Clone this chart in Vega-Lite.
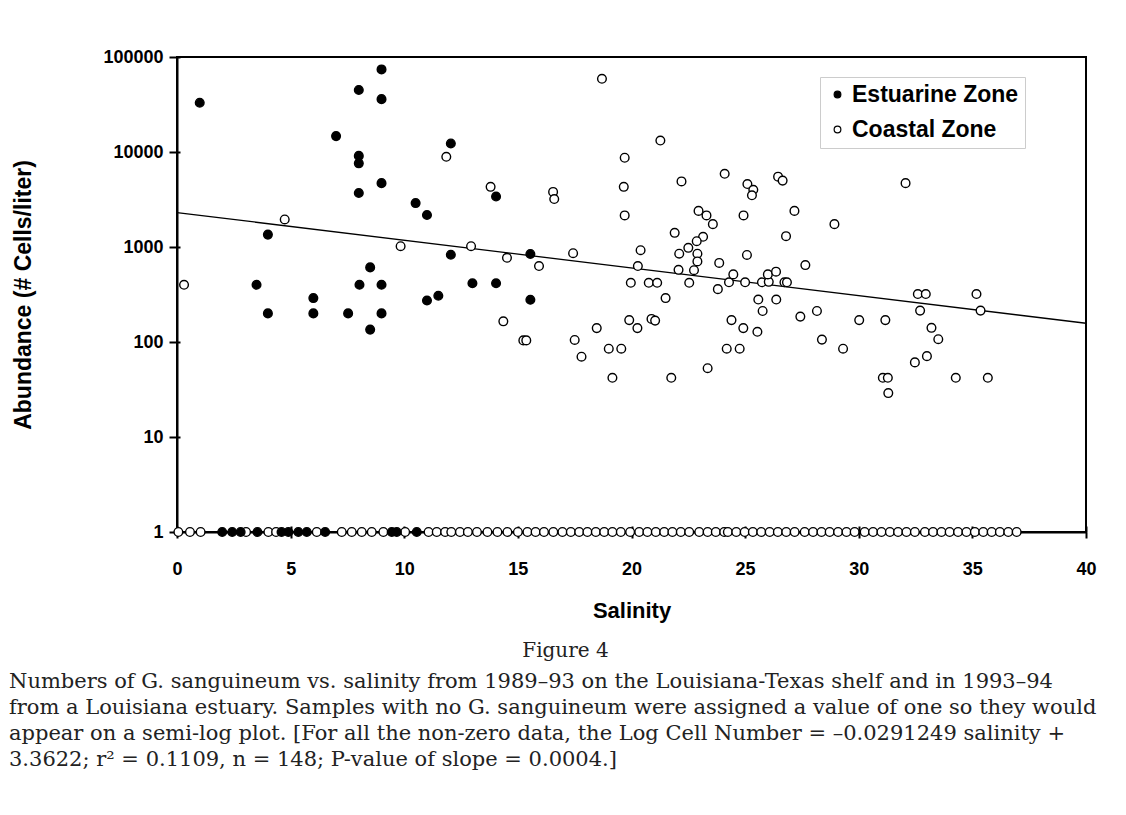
{
  "$schema": "https://vega.github.io/schema/vega-lite/v6.json",
  "padding": {"left": 9, "top": 47, "right": 0, "bottom": 10},
  "background": "white",
  "spacing": 8,
  "datasets": {
    "fit": [
      {"salinity": 0, "abundance": 2302},
      {"salinity": 40, "abundance": 157.5}
    ],
    "pts": [
      {"salinity": 1.0, "abundance": 33000, "zone": "Estuarine Zone"},
      {"salinity": 9.0, "abundance": 74000, "zone": "Estuarine Zone"},
      {"salinity": 8.0, "abundance": 45000, "zone": "Estuarine Zone"},
      {"salinity": 9.0, "abundance": 36000, "zone": "Estuarine Zone"},
      {"salinity": 7.0, "abundance": 14700, "zone": "Estuarine Zone"},
      {"salinity": 12.05, "abundance": 12300, "zone": "Estuarine Zone"},
      {"salinity": 8.0, "abundance": 9100, "zone": "Estuarine Zone"},
      {"salinity": 8.0, "abundance": 7600, "zone": "Estuarine Zone"},
      {"salinity": 9.0, "abundance": 4700, "zone": "Estuarine Zone"},
      {"salinity": 8.0, "abundance": 3700, "zone": "Estuarine Zone"},
      {"salinity": 10.5, "abundance": 2900, "zone": "Estuarine Zone"},
      {"salinity": 11.0, "abundance": 2170, "zone": "Estuarine Zone"},
      {"salinity": 4.0, "abundance": 1350, "zone": "Estuarine Zone"},
      {"salinity": 14.04, "abundance": 3400, "zone": "Estuarine Zone"},
      {"salinity": 12.05, "abundance": 830, "zone": "Estuarine Zone"},
      {"salinity": 3.5, "abundance": 400, "zone": "Estuarine Zone"},
      {"salinity": 4.0, "abundance": 200, "zone": "Estuarine Zone"},
      {"salinity": 6.0, "abundance": 290, "zone": "Estuarine Zone"},
      {"salinity": 6.0, "abundance": 200, "zone": "Estuarine Zone"},
      {"salinity": 7.53, "abundance": 200, "zone": "Estuarine Zone"},
      {"salinity": 8.03, "abundance": 400, "zone": "Estuarine Zone"},
      {"salinity": 8.5, "abundance": 610, "zone": "Estuarine Zone"},
      {"salinity": 9.0, "abundance": 400, "zone": "Estuarine Zone"},
      {"salinity": 9.0, "abundance": 200, "zone": "Estuarine Zone"},
      {"salinity": 8.5, "abundance": 135, "zone": "Estuarine Zone"},
      {"salinity": 11.0, "abundance": 273, "zone": "Estuarine Zone"},
      {"salinity": 11.5, "abundance": 307, "zone": "Estuarine Zone"},
      {"salinity": 13.0, "abundance": 415, "zone": "Estuarine Zone"},
      {"salinity": 15.55, "abundance": 845, "zone": "Estuarine Zone"},
      {"salinity": 14.04, "abundance": 415, "zone": "Estuarine Zone"},
      {"salinity": 15.55, "abundance": 278, "zone": "Estuarine Zone"},
      {"salinity": 0.31, "abundance": 400, "zone": "Coastal Zone"},
      {"salinity": 4.74, "abundance": 1950, "zone": "Coastal Zone"},
      {"salinity": 9.84, "abundance": 1020, "zone": "Coastal Zone"},
      {"salinity": 12.94, "abundance": 1020, "zone": "Coastal Zone"},
      {"salinity": 11.85, "abundance": 8900, "zone": "Coastal Zone"},
      {"salinity": 13.8, "abundance": 4300, "zone": "Coastal Zone"},
      {"salinity": 18.7, "abundance": 59000, "zone": "Coastal Zone"},
      {"salinity": 21.27, "abundance": 13200, "zone": "Coastal Zone"},
      {"salinity": 19.7, "abundance": 8700, "zone": "Coastal Zone"},
      {"salinity": 19.66, "abundance": 4300, "zone": "Coastal Zone"},
      {"salinity": 19.7, "abundance": 2150, "zone": "Coastal Zone"},
      {"salinity": 16.55, "abundance": 3800, "zone": "Coastal Zone"},
      {"salinity": 16.6, "abundance": 3200, "zone": "Coastal Zone"},
      {"salinity": 22.2, "abundance": 4900, "zone": "Coastal Zone"},
      {"salinity": 24.1, "abundance": 5900, "zone": "Coastal Zone"},
      {"salinity": 25.1, "abundance": 4600, "zone": "Coastal Zone"},
      {"salinity": 25.36, "abundance": 4000, "zone": "Coastal Zone"},
      {"salinity": 25.3, "abundance": 3500, "zone": "Coastal Zone"},
      {"salinity": 26.45, "abundance": 5500, "zone": "Coastal Zone"},
      {"salinity": 26.65, "abundance": 5000, "zone": "Coastal Zone"},
      {"salinity": 27.17, "abundance": 2400, "zone": "Coastal Zone"},
      {"salinity": 22.95, "abundance": 2400, "zone": "Coastal Zone"},
      {"salinity": 23.3, "abundance": 2150, "zone": "Coastal Zone"},
      {"salinity": 23.58, "abundance": 1740, "zone": "Coastal Zone"},
      {"salinity": 24.93, "abundance": 2150, "zone": "Coastal Zone"},
      {"salinity": 21.9, "abundance": 1410, "zone": "Coastal Zone"},
      {"salinity": 23.15, "abundance": 1280, "zone": "Coastal Zone"},
      {"salinity": 22.87, "abundance": 1150, "zone": "Coastal Zone"},
      {"salinity": 26.8, "abundance": 1300, "zone": "Coastal Zone"},
      {"salinity": 32.06, "abundance": 4700, "zone": "Coastal Zone"},
      {"salinity": 28.93, "abundance": 1740, "zone": "Coastal Zone"},
      {"salinity": 14.52, "abundance": 770, "zone": "Coastal Zone"},
      {"salinity": 15.93, "abundance": 630, "zone": "Coastal Zone"},
      {"salinity": 17.43, "abundance": 860, "zone": "Coastal Zone"},
      {"salinity": 14.36, "abundance": 165, "zone": "Coastal Zone"},
      {"salinity": 15.24, "abundance": 104, "zone": "Coastal Zone"},
      {"salinity": 15.37, "abundance": 104, "zone": "Coastal Zone"},
      {"salinity": 17.5, "abundance": 105, "zone": "Coastal Zone"},
      {"salinity": 17.8, "abundance": 70, "zone": "Coastal Zone"},
      {"salinity": 18.47, "abundance": 140, "zone": "Coastal Zone"},
      {"salinity": 19.0, "abundance": 85, "zone": "Coastal Zone"},
      {"salinity": 19.55, "abundance": 85, "zone": "Coastal Zone"},
      {"salinity": 19.16, "abundance": 42, "zone": "Coastal Zone"},
      {"salinity": 19.9, "abundance": 170, "zone": "Coastal Zone"},
      {"salinity": 20.26, "abundance": 140, "zone": "Coastal Zone"},
      {"salinity": 20.88, "abundance": 175, "zone": "Coastal Zone"},
      {"salinity": 21.04, "abundance": 168, "zone": "Coastal Zone"},
      {"salinity": 21.5, "abundance": 290, "zone": "Coastal Zone"},
      {"salinity": 21.75, "abundance": 42, "zone": "Coastal Zone"},
      {"salinity": 19.97, "abundance": 420, "zone": "Coastal Zone"},
      {"salinity": 20.76, "abundance": 420, "zone": "Coastal Zone"},
      {"salinity": 21.13, "abundance": 420, "zone": "Coastal Zone"},
      {"salinity": 20.28, "abundance": 630, "zone": "Coastal Zone"},
      {"salinity": 20.4, "abundance": 925, "zone": "Coastal Zone"},
      {"salinity": 22.1, "abundance": 850, "zone": "Coastal Zone"},
      {"salinity": 22.5, "abundance": 980, "zone": "Coastal Zone"},
      {"salinity": 22.9, "abundance": 850, "zone": "Coastal Zone"},
      {"salinity": 22.9, "abundance": 705, "zone": "Coastal Zone"},
      {"salinity": 22.07, "abundance": 575, "zone": "Coastal Zone"},
      {"salinity": 22.75, "abundance": 570, "zone": "Coastal Zone"},
      {"salinity": 22.54, "abundance": 420, "zone": "Coastal Zone"},
      {"salinity": 23.86, "abundance": 680, "zone": "Coastal Zone"},
      {"salinity": 23.8, "abundance": 360, "zone": "Coastal Zone"},
      {"salinity": 24.29, "abundance": 425, "zone": "Coastal Zone"},
      {"salinity": 24.48, "abundance": 515, "zone": "Coastal Zone"},
      {"salinity": 25.08, "abundance": 825, "zone": "Coastal Zone"},
      {"salinity": 25.0, "abundance": 425, "zone": "Coastal Zone"},
      {"salinity": 25.74, "abundance": 425, "zone": "Coastal Zone"},
      {"salinity": 26.04, "abundance": 430, "zone": "Coastal Zone"},
      {"salinity": 26.0, "abundance": 515, "zone": "Coastal Zone"},
      {"salinity": 26.36, "abundance": 550, "zone": "Coastal Zone"},
      {"salinity": 26.73, "abundance": 425, "zone": "Coastal Zone"},
      {"salinity": 26.84, "abundance": 425, "zone": "Coastal Zone"},
      {"salinity": 27.65, "abundance": 645, "zone": "Coastal Zone"},
      {"salinity": 25.58, "abundance": 280, "zone": "Coastal Zone"},
      {"salinity": 26.37, "abundance": 280, "zone": "Coastal Zone"},
      {"salinity": 25.77, "abundance": 212, "zone": "Coastal Zone"},
      {"salinity": 27.43, "abundance": 185, "zone": "Coastal Zone"},
      {"salinity": 24.4, "abundance": 170, "zone": "Coastal Zone"},
      {"salinity": 24.92, "abundance": 140, "zone": "Coastal Zone"},
      {"salinity": 25.54, "abundance": 128, "zone": "Coastal Zone"},
      {"salinity": 24.19, "abundance": 85, "zone": "Coastal Zone"},
      {"salinity": 24.76, "abundance": 85, "zone": "Coastal Zone"},
      {"salinity": 23.35, "abundance": 53, "zone": "Coastal Zone"},
      {"salinity": 28.16, "abundance": 212, "zone": "Coastal Zone"},
      {"salinity": 28.38, "abundance": 106, "zone": "Coastal Zone"},
      {"salinity": 29.31, "abundance": 85, "zone": "Coastal Zone"},
      {"salinity": 30.02, "abundance": 170, "zone": "Coastal Zone"},
      {"salinity": 31.17, "abundance": 170, "zone": "Coastal Zone"},
      {"salinity": 31.06, "abundance": 42, "zone": "Coastal Zone"},
      {"salinity": 31.28, "abundance": 42, "zone": "Coastal Zone"},
      {"salinity": 31.3, "abundance": 29, "zone": "Coastal Zone"},
      {"salinity": 32.6, "abundance": 320, "zone": "Coastal Zone"},
      {"salinity": 32.95, "abundance": 320, "zone": "Coastal Zone"},
      {"salinity": 32.7, "abundance": 214, "zone": "Coastal Zone"},
      {"salinity": 33.2, "abundance": 141, "zone": "Coastal Zone"},
      {"salinity": 33.5, "abundance": 107, "zone": "Coastal Zone"},
      {"salinity": 33.0, "abundance": 71, "zone": "Coastal Zone"},
      {"salinity": 32.47, "abundance": 61, "zone": "Coastal Zone"},
      {"salinity": 34.27, "abundance": 42, "zone": "Coastal Zone"},
      {"salinity": 35.18, "abundance": 320, "zone": "Coastal Zone"},
      {"salinity": 35.36, "abundance": 214, "zone": "Coastal Zone"},
      {"salinity": 35.68, "abundance": 42, "zone": "Coastal Zone"},
      {"salinity": 0.06, "abundance": 1, "zone": "Coastal Zone"},
      {"salinity": 0.57, "abundance": 1, "zone": "Coastal Zone"},
      {"salinity": 1.04, "abundance": 1, "zone": "Coastal Zone"},
      {"salinity": 3.04, "abundance": 1, "zone": "Coastal Zone"},
      {"salinity": 4.02, "abundance": 1, "zone": "Coastal Zone"},
      {"salinity": 4.36, "abundance": 1, "zone": "Coastal Zone"},
      {"salinity": 6.15, "abundance": 1, "zone": "Coastal Zone"},
      {"salinity": 7.25, "abundance": 1, "zone": "Coastal Zone"},
      {"salinity": 7.69, "abundance": 1, "zone": "Coastal Zone"},
      {"salinity": 8.13, "abundance": 1, "zone": "Coastal Zone"},
      {"salinity": 8.57, "abundance": 1, "zone": "Coastal Zone"},
      {"salinity": 9.08, "abundance": 1, "zone": "Coastal Zone"},
      {"salinity": 10.04, "abundance": 1, "zone": "Coastal Zone"},
      {"salinity": 11.07, "abundance": 1, "zone": "Coastal Zone"},
      {"salinity": 11.43, "abundance": 1, "zone": "Coastal Zone"},
      {"salinity": 11.8, "abundance": 1, "zone": "Coastal Zone"},
      {"salinity": 12.07, "abundance": 1, "zone": "Coastal Zone"},
      {"salinity": 12.45, "abundance": 1, "zone": "Coastal Zone"},
      {"salinity": 12.8, "abundance": 1, "zone": "Coastal Zone"},
      {"salinity": 13.2, "abundance": 1, "zone": "Coastal Zone"},
      {"salinity": 13.66, "abundance": 1, "zone": "Coastal Zone"},
      {"salinity": 14.1, "abundance": 1, "zone": "Coastal Zone"},
      {"salinity": 14.54, "abundance": 1, "zone": "Coastal Zone"},
      {"salinity": 15.0, "abundance": 1, "zone": "Coastal Zone"},
      {"salinity": 15.42, "abundance": 1, "zone": "Coastal Zone"},
      {"salinity": 15.78, "abundance": 1, "zone": "Coastal Zone"},
      {"salinity": 16.15, "abundance": 1, "zone": "Coastal Zone"},
      {"salinity": 16.56, "abundance": 1, "zone": "Coastal Zone"},
      {"salinity": 16.96, "abundance": 1, "zone": "Coastal Zone"},
      {"salinity": 17.33, "abundance": 1, "zone": "Coastal Zone"},
      {"salinity": 17.7, "abundance": 1, "zone": "Coastal Zone"},
      {"salinity": 18.06, "abundance": 1, "zone": "Coastal Zone"},
      {"salinity": 18.43, "abundance": 1, "zone": "Coastal Zone"},
      {"salinity": 18.8, "abundance": 1, "zone": "Coastal Zone"},
      {"salinity": 19.16, "abundance": 1, "zone": "Coastal Zone"},
      {"salinity": 19.53, "abundance": 1, "zone": "Coastal Zone"},
      {"salinity": 19.94, "abundance": 1, "zone": "Coastal Zone"},
      {"salinity": 20.34, "abundance": 1, "zone": "Coastal Zone"},
      {"salinity": 20.7, "abundance": 1, "zone": "Coastal Zone"},
      {"salinity": 21.07, "abundance": 1, "zone": "Coastal Zone"},
      {"salinity": 21.44, "abundance": 1, "zone": "Coastal Zone"},
      {"salinity": 21.8, "abundance": 1, "zone": "Coastal Zone"},
      {"salinity": 22.17, "abundance": 1, "zone": "Coastal Zone"},
      {"salinity": 22.54, "abundance": 1, "zone": "Coastal Zone"},
      {"salinity": 22.98, "abundance": 1, "zone": "Coastal Zone"},
      {"salinity": 23.35, "abundance": 1, "zone": "Coastal Zone"},
      {"salinity": 23.71, "abundance": 1, "zone": "Coastal Zone"},
      {"salinity": 24.08, "abundance": 1, "zone": "Coastal Zone"},
      {"salinity": 24.24, "abundance": 1, "zone": "Coastal Zone"},
      {"salinity": 24.61, "abundance": 1, "zone": "Coastal Zone"},
      {"salinity": 24.98, "abundance": 1, "zone": "Coastal Zone"},
      {"salinity": 25.34, "abundance": 1, "zone": "Coastal Zone"},
      {"salinity": 25.71, "abundance": 1, "zone": "Coastal Zone"},
      {"salinity": 26.08, "abundance": 1, "zone": "Coastal Zone"},
      {"salinity": 26.44, "abundance": 1, "zone": "Coastal Zone"},
      {"salinity": 26.81, "abundance": 1, "zone": "Coastal Zone"},
      {"salinity": 27.18, "abundance": 1, "zone": "Coastal Zone"},
      {"salinity": 27.62, "abundance": 1, "zone": "Coastal Zone"},
      {"salinity": 27.99, "abundance": 1, "zone": "Coastal Zone"},
      {"salinity": 28.36, "abundance": 1, "zone": "Coastal Zone"},
      {"salinity": 28.72, "abundance": 1, "zone": "Coastal Zone"},
      {"salinity": 29.09, "abundance": 1, "zone": "Coastal Zone"},
      {"salinity": 29.46, "abundance": 1, "zone": "Coastal Zone"},
      {"salinity": 29.82, "abundance": 1, "zone": "Coastal Zone"},
      {"salinity": 30.26, "abundance": 1, "zone": "Coastal Zone"},
      {"salinity": 30.63, "abundance": 1, "zone": "Coastal Zone"},
      {"salinity": 31.0, "abundance": 1, "zone": "Coastal Zone"},
      {"salinity": 31.37, "abundance": 1, "zone": "Coastal Zone"},
      {"salinity": 31.73, "abundance": 1, "zone": "Coastal Zone"},
      {"salinity": 32.1, "abundance": 1, "zone": "Coastal Zone"},
      {"salinity": 32.47, "abundance": 1, "zone": "Coastal Zone"},
      {"salinity": 32.91, "abundance": 1, "zone": "Coastal Zone"},
      {"salinity": 33.27, "abundance": 1, "zone": "Coastal Zone"},
      {"salinity": 33.64, "abundance": 1, "zone": "Coastal Zone"},
      {"salinity": 34.0, "abundance": 1, "zone": "Coastal Zone"},
      {"salinity": 34.37, "abundance": 1, "zone": "Coastal Zone"},
      {"salinity": 34.74, "abundance": 1, "zone": "Coastal Zone"},
      {"salinity": 35.11, "abundance": 1, "zone": "Coastal Zone"},
      {"salinity": 35.48, "abundance": 1, "zone": "Coastal Zone"},
      {"salinity": 35.85, "abundance": 1, "zone": "Coastal Zone"},
      {"salinity": 36.21, "abundance": 1, "zone": "Coastal Zone"},
      {"salinity": 36.58, "abundance": 1, "zone": "Coastal Zone"},
      {"salinity": 36.95, "abundance": 1, "zone": "Coastal Zone"},
      {"salinity": 1.99, "abundance": 1, "zone": "Estuarine Zone"},
      {"salinity": 2.43, "abundance": 1, "zone": "Estuarine Zone"},
      {"salinity": 2.8, "abundance": 1, "zone": "Estuarine Zone"},
      {"salinity": 3.54, "abundance": 1, "zone": "Estuarine Zone"},
      {"salinity": 4.6, "abundance": 1, "zone": "Estuarine Zone"},
      {"salinity": 4.9, "abundance": 1, "zone": "Estuarine Zone"},
      {"salinity": 5.34, "abundance": 1, "zone": "Estuarine Zone"},
      {"salinity": 5.71, "abundance": 1, "zone": "Estuarine Zone"},
      {"salinity": 6.52, "abundance": 1, "zone": "Estuarine Zone"},
      {"salinity": 9.45, "abundance": 1, "zone": "Estuarine Zone"},
      {"salinity": 9.67, "abundance": 1, "zone": "Estuarine Zone"},
      {"salinity": 10.55, "abundance": 1, "zone": "Estuarine Zone"}
    ]
  },
  "vconcat": [
    {
      "width": 909,
      "height": 475,
      "title": {
        "text": "Figure 4",
        "orient": "bottom",
        "anchor": "middle",
        "frame": "group",
        "dx": -66,
        "offset": 20,
        "font": "DejaVu Serif",
        "fontSize": 20,
        "fontWeight": "normal",
        "color": "#222"
      },
      "resolve": {"axis": {"x": "independent", "y": "independent"}},
      "layer": [
        {
          "data": {"name": "fit"},
          "mark": {"type": "line", "color": "black", "strokeWidth": 1.3},
          "encoding": {
            "x": {"field": "salinity", "type": "quantitative", "scale": {"domain": [0, 40], "nice": false},
                  "axis": {"orient": "bottom", "values": [0, 5, 10, 15, 20, 25, 30, 35, 40], "tickSize": -6, "labels": false, "domain": false, "title": null}},
            "y": {"field": "abundance", "type": "quantitative", "scale": {"type": "log", "domain": [1, 100000], "nice": false},
                  "axis": {"orient": "left", "values": [1, 10, 100, 1000, 10000, 100000], "tickSize": -3, "labels": false, "domain": false, "title": null}}
          }
        },
        {
          "data": {"name": "pts"},
          "mark": {"type": "point", "shape": "circle", "filled": true, "stroke": "black", "strokeWidth": 1.4, "size": 75, "opacity": 1},
          "encoding": {
            "x": {"field": "salinity", "type": "quantitative", "scale": {"domain": [0, 40], "nice": false}, "title": "Salinity",
                  "axis": {"orient": "bottom", "values": [0, 5, 10, 15, 20, 25, 30, 35, 40], "tickSize": 6, "labelPadding": 22, "titleFontSize": 22, "titlePadding": 22, "labelFlush": false}},
            "y": {"field": "abundance", "type": "quantitative", "scale": {"type": "log", "domain": [1, 100000], "nice": false}, "title": "Abundance (# Cells/liter)",
                  "axis": {"orient": "left", "values": [1, 10, 100, 1000, 10000, 100000], "format": "d", "tickSize": 8, "labelPadding": 6, "titleFontSize": 23, "titlePadding": 67, "labelFlush": false}},
            "fill": {
              "field": "zone", "type": "nominal",
              "scale": {"domain": ["Estuarine Zone", "Coastal Zone"], "range": ["black", "white"]},
              "legend": {
                "title": null,
                "orient": "none",
                "legendX": 643,
                "legendY": 20,
                "symbolType": "circle",
                "symbolSize": 45,
                "symbolStrokeColor": "black",
                "symbolStrokeWidth": 1.2,
                "labelFont": "Liberation Sans",
                "labelFontWeight": "bold",
                "labelFontSize": 23,
                "labelColor": "black",
                "labelLimit": 400,
                "labelOffset": 3,
                "rowPadding": 11,
                "padding": 6,
                "strokeColor": "#cccccc",
                "fillColor": "white"
              }
            }
          }
        }
      ]
    },
    {
      "width": 909,
      "height": 1,
      "view": {"stroke": null},
      "data": {"values": [{"caption": ""}]},
      "mark": {"type": "text"},
      "encoding": {"text": {"field": "caption", "type": "nominal"}},
      "title": {
        "text": [
          "Numbers of G. sanguineum vs. salinity from 1989–93 on the Louisiana-Texas shelf and in 1993–94",
          "from a Louisiana estuary. Samples with no G. sanguineum were assigned a value of one so they would",
          "appear on a semi-log plot. [For all the non-zero data, the Log Cell Number = –0.0291249 salinity +",
          "3.3622; r² = 0.1109, n = 148; P-value of slope = 0.0004.]"
        ],
        "orient": "top",
        "anchor": "start",
        "frame": "group",
        "dx": -168,
        "offset": 0,
        "font": "DejaVu Serif",
        "fontSize": 21,
        "fontWeight": "normal",
        "lineHeight": 26,
        "color": "#222",
        "limit": 0
      }
    }
  ],
  "config": {
    "view": {"stroke": "black", "strokeWidth": 2},
    "axis": {
      "grid": false,
      "domainColor": "black",
      "domainWidth": 2,
      "tickColor": "black",
      "tickWidth": 2,
      "labelFont": "Liberation Sans",
      "labelFontWeight": "bold",
      "labelFontSize": 18,
      "labelColor": "black",
      "titleFont": "Liberation Sans",
      "titleFontWeight": "bold",
      "titleColor": "black"
    }
  }
}
